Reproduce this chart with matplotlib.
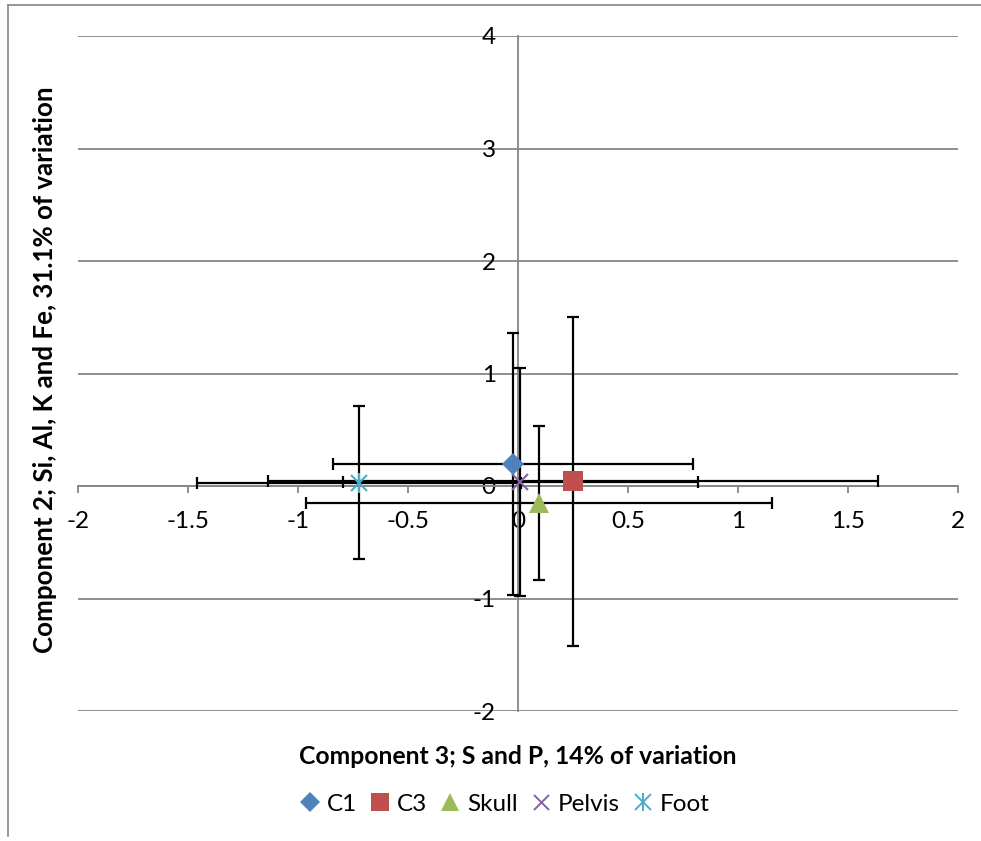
import matplotlib.pyplot as plt
from matplotlib.lines import Line2D

# values
groups = ['C1', 'C3', 'Skull', 'Pelvis', 'Foot']
comp3 = [-0.024, 0.25, 0.095, 0.011, -0.723]
comp2 = [0.193, 0.042, -0.15, 0.035, 0.03]
comp3_err = [0.818, 1.385, 1.06, 0.807, 0.737]
comp2_err = [1.165, 1.463, 0.687, 1.013, 0.683]

colors = ['#4F81BD', '#C0504D', '#9BBB59', '#8064A2', '#4BACC6']
x_ticks = [-2, -1.5, -1, -0.5, 0, 0.5, 1, 1.5, 2]
y_ticks = [-2, -1, 0, 1, 2, 3, 4]

plt.rcParams['font.family'] = ['Lato', 'DejaVu Sans']
grey = '#868686'

fig = plt.figure(figsize=(9.81, 8.41), dpi=100)
ax = fig.add_axes([78 / 981, 1 - 711 / 841, 880 / 981, 675 / 841])

# error bars first, markers on top
for x, y, xe, ye in zip(comp3, comp2, comp3_err, comp2_err):
    ax.errorbar(x, y, xerr=xe, yerr=ye, fmt='none', ecolor='black',
                elinewidth=1.6, capsize=4.5, capthick=1.6, zorder=3)

handles = []
marker_style = [('D', 11), ('s', 14), ('^', 14), ('x', 12), (None, 12)]
for i, name in enumerate(groups):
    m, ms = marker_style[i]
    if m is None:
        # Excel-style star: x with vertical stroke
        ax.plot(comp3[i], comp2[i], 'x', color=colors[i], ms=ms, mew=1.5, zorder=4)
        ax.plot(comp3[i], comp2[i], '|', color=colors[i], ms=ms * 1.2, mew=1.5, zorder=4)
        h = (Line2D([], [], ls='none', marker='x', color=colors[i], ms=11, mew=1.4),
             Line2D([], [], ls='none', marker='|', color=colors[i], ms=13, mew=1.4))
    else:
        mew = 1.5 if m == 'x' else 0
        ax.plot(comp3[i], comp2[i], m, color=colors[i], ms=ms, mew=mew, zorder=4)
        h = Line2D([], [], ls='none', marker=m, color=colors[i],
                   ms=ms * 0.9, mew=1.4 if m == 'x' else 0)
    handles.append(h)

ax.set_xlim(-2, 2)
ax.set_ylim(-2, 4)
ax.set_xticks(x_ticks)
ax.set_xticklabels([f'{v:g}' for v in x_ticks])
ax.set_yticks(y_ticks)
ax.set_yticklabels([f'{v:g}' for v in y_ticks])

ax.spines['left'].set_position(('data', 0))
ax.spines['bottom'].set_position(('data', 0))
ax.spines['top'].set_visible(False)
ax.spines['right'].set_visible(False)
for s in ('left', 'bottom'):
    ax.spines[s].set_color(grey)
    ax.spines[s].set_linewidth(1.3)
    ax.spines[s].set_zorder(2)

ax.yaxis.grid(True, color=grey, linewidth=1.3)
ax.set_axisbelow(True)
ax.tick_params(axis='x', direction='out', length=5, width=1.3, color=grey,
               labelsize=17.5, pad=13)
ax.tick_params(axis='y', length=0, labelsize=17.5, pad=16)

fig.text(518 / 981, 1 - 757 / 841, 'Component 3; S and P, 14% of variation',
         ha='center', va='center', fontsize=17.8, fontweight='bold')
fig.text(45 / 981, 1 - 370 / 841, 'Component 2; Si, Al, K and Fe, 31.1% of variation',
         ha='center', va='center', rotation=90, fontsize=18.6, fontweight='bold')

fig.legend(handles, groups, loc='center', bbox_to_anchor=(505 / 981, 1 - 804 / 841),
           ncol=5, frameon=False, fontsize=17.5, handlelength=0.8, handletextpad=0.3,
           columnspacing=0.55)

# chart border (top and left edges visible in the reference)
fig.add_artist(Line2D([8 / 981, 1], [1 - 5 / 841, 1 - 5 / 841], color=grey, lw=1.2))
fig.add_artist(Line2D([8 / 981, 8 / 981], [1 - 5 / 841, 1 - 836 / 841], color=grey, lw=1.2))

fig.savefig('out.png', dpi=100)
